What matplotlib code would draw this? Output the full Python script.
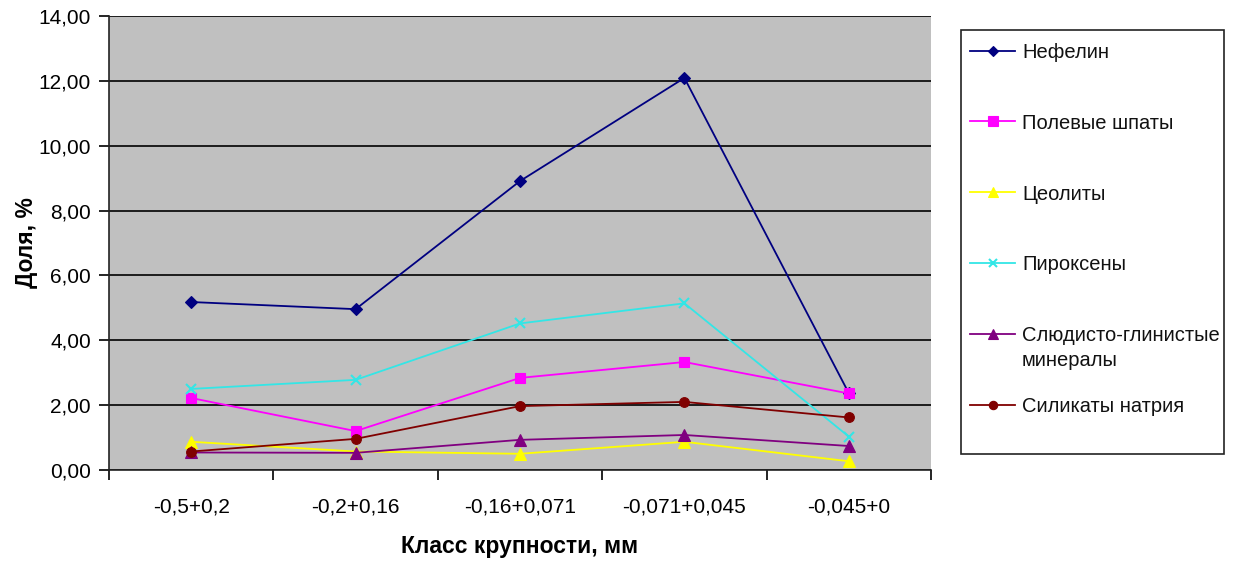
import matplotlib
matplotlib.use("Agg")
import matplotlib.pyplot as plt
import numpy as np
from matplotlib.lines import Line2D
from matplotlib.patches import Rectangle
from matplotlib.ticker import FixedLocator, FuncFormatter

plt.rcParams['font.family'] = ['Liberation Sans', 'DejaVu Sans']

categories = ["-0,5+0,2", "-0,2+0,16", "-0,16+0,071", "-0,071+0,045", "-0,045+0"]

nefelin = [5.18, 4.96, 8.91, 12.09, 2.37]
polevye_shpaty = [2.22, 1.20, 2.84, 3.33, 2.36]
zeolity = [0.87, 0.57, 0.50, 0.87, 0.27]
piroksény = [2.50, 2.78, 4.52, 5.14, 1.03]
slyudisto = [0.54, 0.53, 0.93, 1.08, 0.74]
silikaty_natriya = [0.57, 0.96, 1.97, 2.10, 1.62]

series_names = ["Нефелин", "Полевые шпаты", "Цеолиты", "Пироксены",
                "Слюдисто-глинистые\nминералы", "Силикаты натрия"]
series_values = [nefelin, polevye_shpaty, zeolity, piroksény, slyudisto, silikaty_natriya]
series_colors = ["#000080", "#FF00FF", "#FFFF00", "#33E6E6", "#800080", "#800000"]
series_markers = ["D", "s", "^", "x", "^", "o"]
marker_sizes = [6.5, 7.5, 8, 6.5, 8, 7]

W, H = 1235, 565
fig = plt.figure(figsize=(W / 100, H / 100), dpi=100)


def fx(px):
    return px / W


def fy(py):
    # pixel row measured from the top edge -> figure fraction
    return 1 - py / H


ax = fig.add_axes([fx(109), fy(470), fx(822), 454 / H])
ax.set_facecolor("#C0C0C0")

x = np.arange(len(categories))
for vals, name, col, mk, ms in zip(series_values, series_names, series_colors,
                                   series_markers, marker_sizes):
    ax.plot(x, vals, color=col, marker=mk, markersize=ms, linewidth=1.3,
            markeredgewidth=1.5 if mk == "x" else 0.8, markeredgecolor=col,
            zorder=3)

ax.set_xlim(-0.5, len(categories) - 0.5)
ax.set_ylim(0, 14)
ax.yaxis.set_major_locator(FixedLocator(np.arange(0, 14.01, 2)))
ax.yaxis.set_major_formatter(FuncFormatter(lambda v, p: f"{v:.2f}".replace(".", ",")))
ax.grid(axis="y", color="black", linewidth=1.2, zorder=1)
ax.set_axisbelow(True)

ax.set_xticks(x)
ax.set_xticklabels(categories)
ax.set_xticks(np.arange(-0.5, len(categories) - 0.4, 1), minor=True)
ax.tick_params(axis="x", which="major", length=0, pad=20, labelsize=15)
ax.tick_params(axis="x", which="minor", length=7, width=1.2, direction="out")
ax.tick_params(axis="y", length=7, width=1.2, direction="out", labelsize=15, pad=6)

for s in ["top", "right"]:
    ax.spines[s].set_visible(False)
for s in ["left", "bottom"]:
    ax.spines[s].set_linewidth(1.2)
    ax.spines[s].set_color("#222222")

ax.set_xlabel("Класс крупности, мм", fontsize=16.5, fontweight="bold", labelpad=13)
ax.set_ylabel("Доля, %", fontsize=16.5, fontweight="bold", labelpad=0)

# Legend panel on the right: framed box, one entry per series
fig.add_artist(Rectangle((fx(961), fy(454)), fx(1224 - 961), (454 - 30) / H,
                         transform=fig.transFigure, facecolor="white",
                         edgecolor="#222222", linewidth=1.2))
entry_top, entry_step, line_step = 50.5, 70.8, 25
for i, (name, col, mk, ms) in enumerate(zip(series_names, series_colors,
                                            series_markers, marker_sizes)):
    yy = entry_top + i * entry_step
    fig.add_artist(Line2D([fx(970), fx(1015)], [fy(yy), fy(yy)],
                          transform=fig.transFigure, color=col, linewidth=1.3))
    fig.add_artist(Line2D([fx(992.5)], [fy(yy)], transform=fig.transFigure,
                          color=col, marker=mk, markersize=ms - 1,
                          markeredgewidth=1.5 if mk == "x" else 0.8,
                          markeredgecolor=col, linestyle="none"))
    for k, line in enumerate(name.split("\n")):
        fig.text(fx(1022), fy(yy + k * line_step), line, fontsize=14.5,
                 ha="left", va="center_baseline", color="#111111")

fig.savefig("out.png", dpi=100)
